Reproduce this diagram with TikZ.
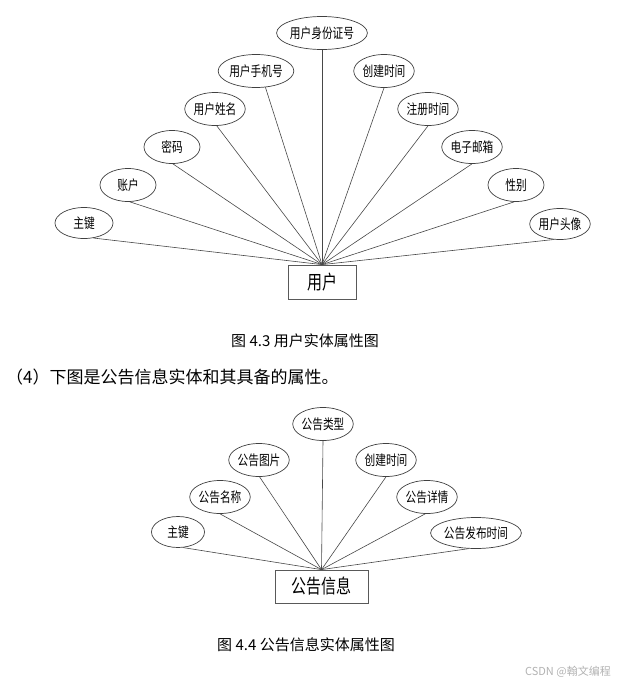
\documentclass[tikz,border=0pt]{standalone}
\usepackage{fontspec}
\setmainfont{Noto Sans CJK SC}
\usetikzlibrary{shapes.geometric}
\newcommand\tallt[1]{\scalebox{1}[1.3]{#1}}
\begin{document}
\begin{tikzpicture}[x=1pt,y=-1pt,
 attr/.style={ellipse,draw=black!75,line width=0.7pt,minimum width=56pt,minimum height=33pt,inner sep=0pt,font=\fontsize{10.7}{12}\selectfont},
 ent/.style={rectangle,draw=black!65,line width=0.8pt,inner sep=0pt,font=\fontsize{15}{18}\selectfont},
 link/.style={draw=black!72,line width=0.6pt},
 captxt/.style={inner sep=0pt,font=\fontsize{15}{18}\selectfont},
 paratxt/.style={inner sep=0pt,anchor=west,font=\fontsize{17}{20}\selectfont},
 marktxt/.style={inner sep=0pt,anchor=east,text=black!30,font=\fontsize{11}{13}\selectfont}]
\useasboundingbox (0,0) rectangle (618,681);
% ---------- top diagram ----------
\node[ent,minimum width=68pt,minimum height=34pt] (u) at (322,282) {\tallt{用户}};
\node[attr,minimum width=58pt,minimum height=31pt] (a1) at (84,223) {\tallt{主键}};
\node[attr] (a2) at (128,185) {\tallt{账户}};
\node[attr] (a3) at (172,147) {\tallt{密码}};
\node[attr] (a4) at (215,109) {\tallt{用户姓名}};
\node[attr,minimum width=62pt] (a5) at (256,71) {\tallt{用户手机号}};
\node[attr,minimum width=72pt] (a6) at (322,33) {\tallt{用户身份证号}};
\node[attr] (a7) at (384,71) {\tallt{创建时间}};
\node[attr] (a8) at (428,109) {\tallt{注册时间}};
\node[attr] (a9) at (472,147) {\tallt{电子邮箱}};
\node[attr] (a10) at (516,185) {\tallt{性别}};
\node[attr,minimum width=55pt,minimum height=31pt] (a11) at (560,224) {\tallt{用户头像}};
\draw[link] (u.north) -- (a1.-58);
\draw[link] (u.north) -- (a2.-84);
\draw[link] (u.north) -- (a3.-87);
\draw[link] (u.north) -- (a4.-84);
\draw[link] (u.north) -- (a5.-60);
\draw[link] (u.north) -- (a6.south);
\draw[link] (u.north) -- (a7.south);
\draw[link] (u.north) -- (a8.south);
\draw[link] (u.north) -- (a9.south);
\draw[link] (u.north) -- (a10.-96);
\draw[link] (u.north) -- (a11.-112);
\node[captxt] (cap1) at (305,341) {图 4.3 用户实体属性图};
\node[paratxt] (para) at (6,377) {（4）下图是公告信息实体和其具备的属性。};
% ---------- bottom diagram ----------
\node[ent,minimum width=93pt,minimum height=33pt] (g) at (321.5,586.5) {\tallt{公告信息}};
\node[attr,minimum width=53pt,minimum height=31pt] (b1) at (178,532) {\tallt{主键}};
\node[attr,minimum width=54pt] (b2) at (220,497) {\tallt{公告名称}};
\node[attr,minimum width=55pt] (b3) at (259,460) {\tallt{公告图片}};
\node[attr,minimum width=54pt] (b4) at (323,424) {\tallt{公告类型}};
\node[attr,minimum width=55pt] (b5) at (386,460) {\tallt{创建时间}};
\node[attr,minimum width=55pt] (b6) at (427,497) {\tallt{公告详情}};
\node[attr,minimum width=72pt,minimum height=31pt] (b7) at (476,533) {\tallt{公告发布时间}};
\draw[link] (g.north) -- (b1.-72);
\draw[link] (g.north) -- (b2.south);
\draw[link] (g.north) -- (b3.-88);
\draw[link] (g.north) -- (b4.south);
\draw[link] (g.north) -- (b5.south);
\draw[link] (g.north) -- (b6.-96);
\draw[link] (g.north) -- (b7.-115);
\node[captxt] (cap2) at (306,645) {图 4.4 公告信息实体属性图};
\node[marktxt] (mark) at (611,672) {CSDN @翰文编程};
\end{tikzpicture}
\end{document}
